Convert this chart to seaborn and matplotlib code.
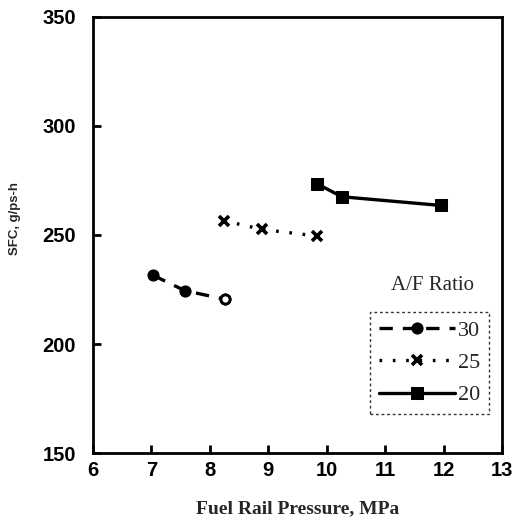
import pandas as pd
import matplotlib.pyplot as plt
import seaborn as sns

# data
ratio_labels = ['30', '25', '20']
pressure_30 = [7.03, 7.57, 8.26]
sfc_30 = [231.5, 224.5, 220.5]
pressure_25 = [8.24, 8.90, 9.84]
sfc_25 = [256.5, 252.5, 249.5]
pressure_20 = [9.83, 10.26, 11.96]
sfc_20 = [273.5, 267.5, 263.5]

x_ticks = [6, 7, 8, 9, 10, 11, 12, 13]
y_ticks = [150, 200, 250, 300, 350]

df = pd.concat([
    pd.DataFrame({'Pressure': pressure_30, 'SFC': sfc_30, 'AF': '30'}),
    pd.DataFrame({'Pressure': pressure_25, 'SFC': sfc_25, 'AF': '25'}),
    pd.DataFrame({'Pressure': pressure_20, 'SFC': sfc_20, 'AF': '20'}),
], ignore_index=True)

sns.set_theme(style="white")
plt.rcParams['font.family'] = ['Liberation Sans', 'DejaVu Sans']

fig = plt.figure(figsize=(5.16, 5.25), dpi=100)
ax = fig.add_axes([0.180, 0.137, 0.793, 0.831])

styles = {
    '30': dict(linestyle=(0, (4, 3)), marker='o', markersize=8),
    '25': dict(linestyle=(0, (0.8, 3.2)), marker='x', markersize=7, markeredgewidth=2.6),
    '20': dict(linestyle='-', marker='s', markersize=8),
}

for lab in ratio_labels:
    sub = df[df['AF'] == lab]
    sns.lineplot(data=sub, x='Pressure', y='SFC', ax=ax, color='black',
                 linewidth=2.4, label=lab, markeredgecolor='black',
                 **styles[lab])

# last point of the 30 series is drawn hollow
sub30 = df[df['AF'] == '30'].iloc[[-1]]
ax.plot(sub30['Pressure'], sub30['SFC'], 'o', markersize=6.5,
        markerfacecolor='white', markeredgecolor='black', markeredgewidth=2)

ax.set_xlim(6, 13)
ax.set_ylim(150, 350)
ax.set_xticks(x_ticks)
ax.set_yticks(y_ticks)
ax.tick_params(bottom=True, left=True, direction='in', length=6, width=2,
               colors='black', labelsize=14.5)
ax.tick_params(axis='x', pad=6)
ax.tick_params(axis='y', pad=12)
for t in ax.get_xticklabels() + ax.get_yticklabels():
    t.set_fontweight('bold')
for s in ax.spines.values():
    s.set_color('black')
    s.set_linewidth(2)

ax.set_xlabel('Fuel Rail Pressure, MPa', family='Liberation Serif',
              fontsize=14, fontweight='bold')
ax.xaxis.set_label_coords(0.5, -0.108)
ax.set_ylabel('SFC, g/ps-h', fontsize=9.5, fontweight='bold')
ax.yaxis.set_label_coords(-0.176, 0.537)

leg = ax.legend(loc='lower right', bbox_to_anchor=(0.968, 0.089),
                handlelength=3.4, handletextpad=0.15, labelspacing=0.52,
                borderpad=0.4, borderaxespad=0, frameon=True, fancybox=False,
                prop={'family': 'Liberation Serif', 'size': 16})
frame = leg.get_frame()
frame.set_edgecolor('black')
frame.set_linewidth(1)
frame.set_linestyle((0, (2, 2)))

ax.text(0.829, 0.385, 'A/F Ratio', transform=ax.transAxes, ha='center',
        va='center', family='Liberation Serif', fontsize=15)

plt.savefig('out.png', dpi=100)
